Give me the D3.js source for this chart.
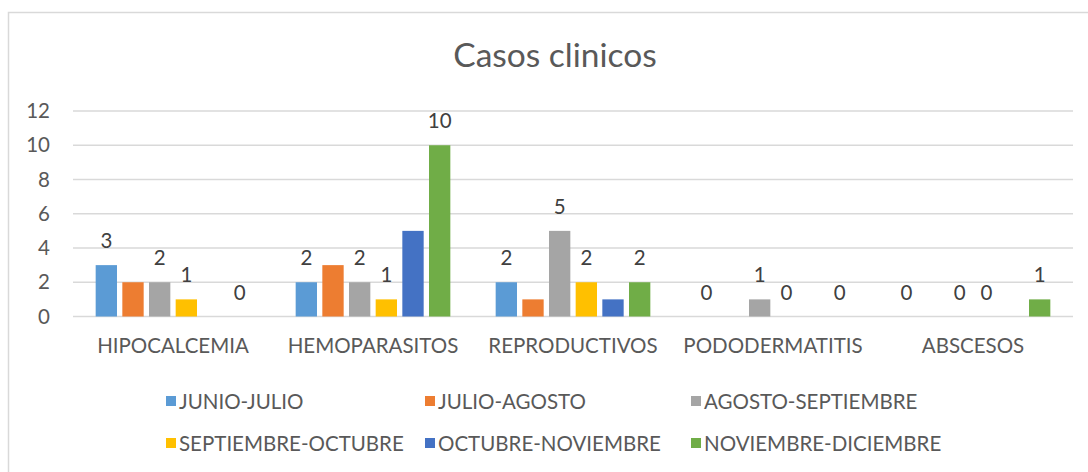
<!DOCTYPE html>
<html>
<head>
<meta charset="utf-8">
<script src="https://cdn.jsdelivr.net/npm/d3@7"></script>
<style>
  body { margin: 0; background: #fff; }
  svg text { font-family: Lato, "Open Sans", sans-serif; }
</style>
</head>
<body>
<div id="chart"></div>
<script>
var categories = ["HIPOCALCEMIA", "HEMOPARASITOS", "REPRODUCTIVOS", "PODODERMATITIS", "ABSCESOS"]
var seriesNames = ["JUNIO-JULIO", "JULIO-AGOSTO", "AGOSTO-SEPTIEMBRE", "SEPTIEMBRE-OCTUBRE", "OCTUBRE-NOVIEMBRE", "NOVIEMBRE-DICIEMBRE"]
var seriesColors = ["#5B9BD5", "#ED7D31", "#A5A5A5", "#FFC000", "#4472C4", "#70AD47"]
// values per series, one value per category
var junioJulio = [3, 2, 2, 0, 0]
var julioAgosto = [2, 3, 1, 0, 0]
var agostoSeptiembre = [2, 2, 5, 1, 0]
var septiembreOctubre = [1, 1, 2, 0, 0]
var octubreNoviembre = [0, 5, 1, 0, 0]
var noviembreDiciembre = [0, 10, 2, 0, 1]
var seriesValues = [junioJulio, julioAgosto, agostoSeptiembre, septiembreOctubre, octubreNoviembre, noviembreDiciembre]
// series that show data labels in the original
var labelled = [true, false, true, true, false, true]
var yTicks = [0, 2, 4, 6, 8, 10, 12]

var W = 1088, H = 472
var margin = {top: 111, left: 73, right: 15, bottom: 156}
var fontSize = 20.5

var svg = d3.select("#chart").append("svg")
  .attr("width", W)
  .attr("height", H)

// chart border
svg.append("rect")
  .attr("x", 8.5).attr("y", 12.5)
  .attr("width", W + 10).attr("height", H + 10)
  .attr("fill", "none")
  .attr("stroke", "#d9d9d9")
  .attr("stroke-width", 1.5)

svg.append("text")
  .attr("x", 555).attr("y", 67)
  .attr("text-anchor", "middle")
  .attr("font-size", 33.5)
  .attr("fill", "#595959")
  .text("Casos clinicos")

var x0 = d3.scaleBand()
  .domain(categories)
  .range([margin.left, 1073])
  .paddingInner(0.2)
  .paddingOuter(0.1)

var x1 = d3.scaleBand()
  .domain(d3.range(seriesNames.length))
  .range([0, x0.bandwidth()])
  .paddingInner(0.2)
  .paddingOuter(0.1)

var y = d3.scaleLinear()
  .domain([0, 12])
  .range([316.5, margin.top])

// gridlines
svg.append("g")
  .selectAll("line")
  .data(yTicks)
  .enter()
  .append("line")
    .attr("x1", margin.left).attr("x2", 1073)
    .attr("y1", d => y(d)).attr("y2", d => y(d))
    .attr("stroke", "#d9d9d9")
    .attr("stroke-width", 1.3)

// y axis labels
var yAxis = svg.append("g")
  .attr("transform", "translate(" + margin.left + ",0)")
  .call(d3.axisLeft(y).tickValues(yTicks).tickSize(0).tickPadding(23))
yAxis.select(".domain").remove()
yAxis.selectAll("text")
  .attr("font-size", fontSize)
  .attr("fill", "#595959")
  .attr("font-family", "Lato, 'Open Sans', sans-serif")

// x axis labels
var xAxis = svg.append("g")
  .attr("transform", "translate(0," + y(0) + ")")
  .call(d3.axisBottom(x0).tickSize(0).tickPadding(22))
xAxis.select(".domain").remove()
xAxis.selectAll("text")
  .attr("font-size", fontSize)
  .attr("fill", "#595959")
  .attr("font-family", "Lato, 'Open Sans', sans-serif")

var groups = svg.append("g")
  .selectAll("g")
  .data(categories)
  .enter()
  .append("g")
    .attr("transform", d => "translate(" + x0(d) + ",0)")

groups.selectAll("rect")
  .data((c, ci) => seriesValues.map((vals, si) => ({si: si, v: vals[ci]})))
  .enter()
  .append("rect")
    .attr("x", d => x1(d.si))
    .attr("width", x1.bandwidth())
    .attr("y", d => y(d.v))
    .attr("height", d => y(0) - y(d.v))
    .attr("fill", d => seriesColors[d.si])

groups.selectAll("text.lbl")
  .data((c, ci) => seriesValues.map((vals, si) => ({si: si, v: vals[ci]})).filter(d => labelled[d.si]))
  .enter()
  .append("text")
    .attr("class", "lbl")
    .attr("x", d => x1(d.si) + x1.bandwidth() / 2)
    .attr("y", d => y(d.v) - 17)
    .attr("text-anchor", "middle")
    .attr("font-size", 20.5)
    .attr("fill", "#404040")
    .text(d => d.v)

// legend
var legendCols = [166, 425, 691]
var legendRows = [401, 443]
var legend = svg.append("g")
  .selectAll("g")
  .data(seriesNames)
  .enter()
  .append("g")
    .attr("transform", (d, i) => "translate(" + legendCols[i % 3] + "," + legendRows[Math.floor(i / 3)] + ")")

legend.append("rect")
  .attr("x", 0).attr("y", -5)
  .attr("width", 10).attr("height", 10)
  .attr("fill", (d, i) => seriesColors[i])

legend.append("text")
  .attr("x", 13).attr("y", 7.5)
  .attr("font-size", fontSize)
  .attr("fill", "#595959")
  .text(d => d)
</script>
</body>
</html>
